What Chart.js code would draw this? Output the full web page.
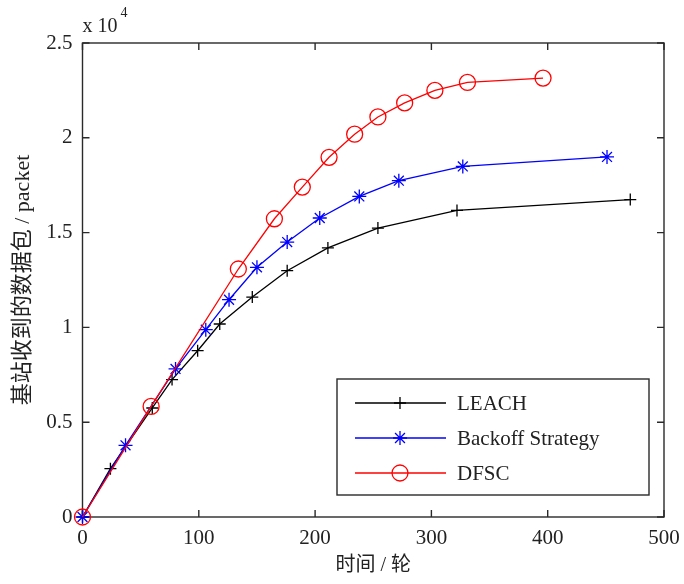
<!DOCTYPE html>
<html>
<head>
<meta charset="utf-8">
<script src="https://cdn.jsdelivr.net/npm/chart.js@4.4.1/dist/chart.umd.min.js"></script>
<style>
  body { margin: 0; background: #fff; }
  #wrap { width: 684px; height: 584px; }
</style>
</head>
<body>
<div id="wrap"><canvas id="chart-01" width="684" height="584"></canvas></div>
<script>
// rounds (x) and packets received at the base station (y)
const leachRounds = [0, 24, 60, 77, 99, 118, 146, 176, 211, 254, 322, 471];
const leachPackets = [0, 2550, 5750, 7250, 8770, 10180, 11600, 12990, 14190, 15240, 16170, 16740];

const backoffRounds = [0, 37, 80, 106, 126, 150, 176, 204, 238, 272, 327, 451];
const backoffPackets = [0, 3780, 7810, 9880, 11460, 13170, 14500, 15770, 16910, 17740, 18490, 18990];

const dfscRounds = [0, 59, 134, 165, 189, 212, 234, 254, 277, 303, 331, 396];
const dfscPackets = [0, 5830, 13080, 15730, 17400, 18970, 20190, 21100, 21840, 22500, 22920, 23150];

const xTickLabels = ['0', '100', '200', '300', '400', '500'];
const yTickLabels = ['0', '0.5', '1', '1.5', '2', '2.5'];

const serif = "'Liberation Serif', 'Noto Sans CJK SC', serif";
const ink = '#222';
const frameColor = '#2a2a2a';

const toPoints = (xs, ys) => xs.map((x, i) => ({ x: x, y: ys[i] }));

// matlab style box with inward ticks on all four sides
const boxFrame = {
    id: 'boxFrame',
    beforeDatasetsDraw(chart) {
        const ctx = chart.ctx;
        const { left, right, top, bottom } = chart.chartArea;
        const xs = chart.scales.x, ys = chart.scales.y;
        const tick = 7;
        ctx.save();
        ctx.strokeStyle = frameColor;
        ctx.lineWidth = 1.4;
        ctx.strokeRect(left, top, right - left, bottom - top);
        ctx.beginPath();
        xs.ticks.forEach(t => {
            const px = xs.getPixelForValue(t.value);
            ctx.moveTo(px, bottom); ctx.lineTo(px, bottom - tick);
            ctx.moveTo(px, top); ctx.lineTo(px, top + tick);
        });
        ys.ticks.forEach(t => {
            const py = ys.getPixelForValue(t.value);
            ctx.moveTo(left, py); ctx.lineTo(left + tick, py);
            ctx.moveTo(right, py); ctx.lineTo(right - tick, py);
        });
        ctx.stroke();

        // exponent above the y axis
        ctx.fillStyle = ink;
        ctx.textBaseline = 'alphabetic';
        ctx.textAlign = 'left';
        ctx.font = "20px " + serif;
        ctx.fillText('x 10', left, top - 11);
        const w = ctx.measureText('x 10').width;
        ctx.font = "14px " + serif;
        ctx.fillText('4', left + w + 3, top - 26);
        ctx.restore();
    }
};

// legend in a framed box, line sample with marker in the middle
const boxLegend = {
    id: 'boxLegend',
    afterDatasetsDraw(chart) {
        const ctx = chart.ctx;
        const { right, bottom } = chart.chartArea;
        const bw = 312, bh = 116;
        const bx = right - 15 - bw, by = bottom - 22 - bh;
        ctx.save();
        ctx.fillStyle = '#fff';
        ctx.fillRect(bx, by, bw, bh);
        ctx.strokeStyle = frameColor;
        ctx.lineWidth = 1.4;
        ctx.strokeRect(bx, by, bw, bh);
        chart.data.datasets.forEach((ds, i) => {
            const y = by + 24 + i * 35;
            ctx.strokeStyle = ds.borderColor;
            ctx.lineWidth = ds.borderWidth;
            ctx.beginPath();
            ctx.moveTo(bx + 18, y);
            ctx.lineTo(bx + 109, y);
            ctx.stroke();
            ctx.fillStyle = 'rgba(0,0,0,0)';
            Chart.helpers.drawPoint(ctx, {
                pointStyle: ds.pointStyle,
                radius: ds.pointRadius,
                borderWidth: ds.pointBorderWidth,
                rotation: 0
            }, bx + 63, y);
            ctx.fillStyle = ink;
            ctx.font = "21px " + serif;
            ctx.textAlign = 'left';
            ctx.textBaseline = 'middle';
            ctx.fillText(ds.label, bx + 120, y + 1);
        });
        ctx.restore();
    }
};

const ctx = document.getElementById('chart-01').getContext('2d');

const chart_01_data = {
    datasets: [{
        label: 'LEACH',
        data: toPoints(leachRounds, leachPackets),
        borderColor: '#000',
        backgroundColor: 'rgba(0,0,0,0)',
        borderWidth: 1.3,
        pointStyle: 'cross',
        pointRadius: 6,
        pointBorderWidth: 1.3,
        tension: 0,
        clip: false,
        order: 3
    },
    {
        label: 'Backoff Strategy',
        data: toPoints(backoffRounds, backoffPackets),
        borderColor: '#0000ff',
        backgroundColor: 'rgba(0,0,0,0)',
        borderWidth: 1.3,
        pointStyle: 'star',
        pointRadius: 7,
        pointBorderWidth: 1.3,
        tension: 0,
        clip: false,
        order: 2
    },
    {
        label: 'DFSC',
        data: toPoints(dfscRounds, dfscPackets),
        borderColor: '#ff0000',
        backgroundColor: 'rgba(0,0,0,0)',
        borderWidth: 1.3,
        pointStyle: 'circle',
        pointRadius: 8,
        pointBorderWidth: 1.3,
        tension: 0,
        clip: false,
        order: 1
    }]
};

const chart_01 = new Chart(ctx, {
    type: 'line',
    data: chart_01_data,
    plugins: [boxFrame, boxLegend],
    options: {
        responsive: false,
        animation: false,
        events: [],
        layout: {
            padding: { top: 43, right: 20, left: 0, bottom: 0 }
        },
        plugins: {
            legend: { display: false },
            tooltip: { enabled: false }
        },
        scales: {
            x: {
                type: 'linear',
                min: 0,
                max: 500,
                afterFit: (scale) => {
                    scale.height = 67;
                    scale.paddingLeft = 0;
                    scale.paddingRight = 0;
                },
                grid: { display: false, drawTicks: false },
                border: { display: false },
                ticks: {
                    stepSize: 100,
                    padding: 9,
                    color: ink,
                    maxRotation: 0,
                    font: { family: serif, size: 21 },
                    callback: (v, i) => xTickLabels[i]
                },
                title: {
                    display: true,
                    text: '时间 / 轮',
                    color: ink,
                    font: { family: serif, size: 20 },
                    padding: { top: 0, bottom: 6 }
                }
            },
            y: {
                min: 0,
                max: 25000,
                afterFit: (scale) => {
                    scale.width = 82.5;
                    scale.paddingTop = 0;
                    scale.paddingBottom = 0;
                },
                grid: { display: false, drawTicks: false },
                border: { display: false },
                ticks: {
                    stepSize: 5000,
                    padding: 10,
                    color: ink,
                    font: { family: serif, size: 21 },
                    callback: (v, i) => yTickLabels[i]
                },
                title: {
                    display: true,
                    text: '基站收到的数据包 / packet',
                    color: ink,
                    font: { family: serif, size: 22 },
                    align: 'center',
                    padding: { top: 10, bottom: 0 }
                }
            }
        }
    }
});
</script>
</body>
</html>
